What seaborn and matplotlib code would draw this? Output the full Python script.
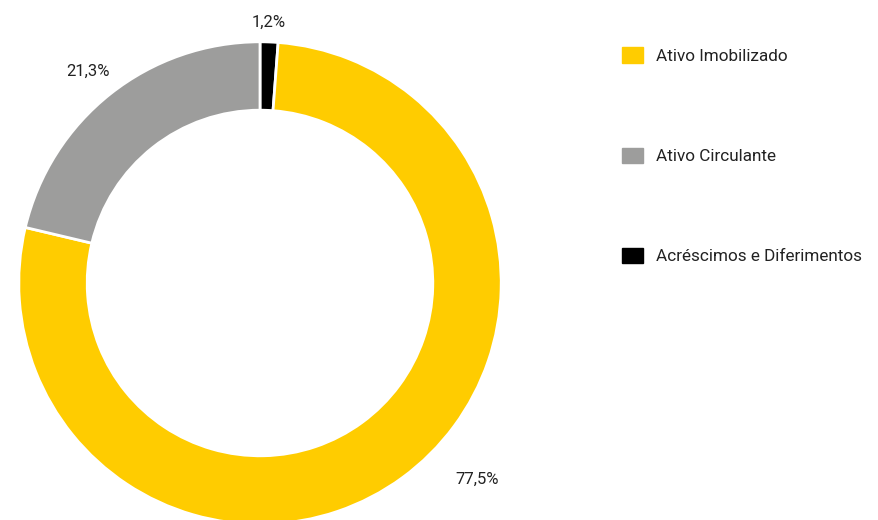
"""Donut chart: composição do ativo."""

import matplotlib
matplotlib.use("Agg")
import matplotlib.pyplot as plt
import matplotlib.patches as mpatches
import seaborn as sns

sns.set_theme(style="white")
plt.rcParams["font.family"] = ["Roboto", "DejaVu Sans"]

# data
categories = ["Acréscimos e Diferimentos", "Ativo Imobilizado", "Ativo Circulante"]
shares = [1.2, 77.5, 21.3]
colors = ["#000000", "#FFCC00", "#9D9D9C"]
legend_order = ["Ativo Imobilizado", "Ativo Circulante", "Acréscimos e Diferimentos"]

# label placement (data units, donut radius = 1)
label_pos = [(0.035, 1.085), (0.905, -0.82), (-0.715, 0.88)]

fig = plt.figure(figsize=(8.79, 5.20), dpi=100)
ax = fig.add_axes([0, 0, 1, 1])

px = 240.0
cx, cy = 260.0, 283.0
ax.pie(
    shares,
    colors=colors,
    startangle=90,
    counterclock=False,
    radius=1.005,
    wedgeprops=dict(width=0.285, edgecolor="white", linewidth=2),
)
ax.set_xlim(-cx / px, (879 - cx) / px)
ax.set_ylim(-(520 - cy) / px, cy / px)
ax.set_aspect("equal")
ax.axis("off")

for val, (x, y) in zip(shares, label_pos):
    ax.text(x, y, f"{val:.1f}%".replace(".", ","), ha="center", va="center",
            fontsize=12, color="#222222")

handles = [mpatches.Patch(color=colors[categories.index(c)], label=c) for c in legend_order]
fig.legend(
    handles=handles,
    loc="upper left",
    bbox_to_anchor=(607 / 879, 1 - 32 / 520),
    frameon=False,
    fontsize=12.3,
    labelspacing=4.9,
    handlelength=1.2,
    handleheight=1.0,
    handletextpad=0.75,
    labelcolor="#222222",
)

fig.savefig("out.png", dpi=100)
